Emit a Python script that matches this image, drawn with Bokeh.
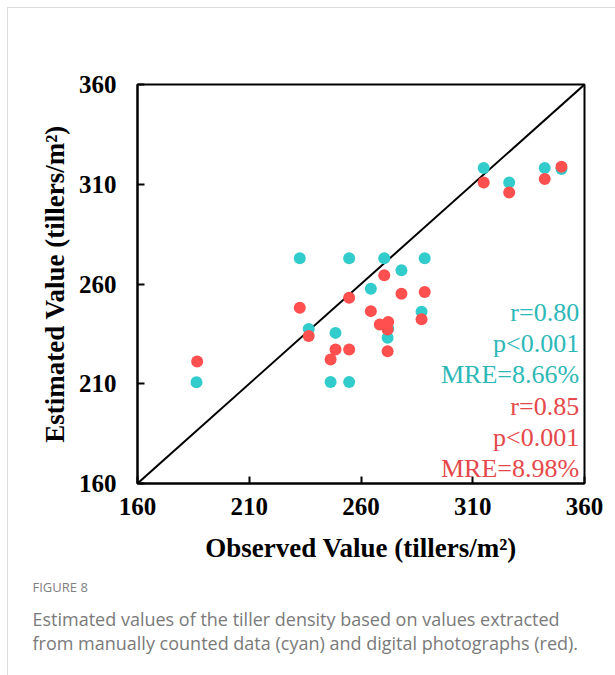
from bokeh.plotting import figure
from bokeh.models import Range1d, FixedTicker, Title, Label
from bokeh.embed import file_html
from bokeh.resources import INLINE

# ---- data ----
cyan_x = [186.4, 232.6, 254.7, 270.4, 288.5, 278.1, 264.4, 287.1, 236.6, 248.6,
          271.9, 272.2, 246.4, 254.7, 314.9, 326.3, 342.2, 349.7]
cyan_y = [210.8, 272.9, 272.9, 272.9, 272.9, 266.9, 257.6, 246.1, 237.5, 235.5,
          233.0, 237.7, 210.9, 210.9, 318.1, 310.9, 318.1, 317.6]
red_x = [186.7, 232.6, 236.6, 254.7, 270.4, 278.1, 288.5, 264.4, 287.1, 268.4,
         272.2, 271.9, 248.6, 254.7, 246.4, 271.9, 314.9, 326.3, 342.2, 349.7]
red_y = [221.2, 248.1, 233.9, 253.1, 264.4, 255.1, 256.0, 246.4, 242.3, 239.7,
         240.9, 237.2, 227.2, 227.2, 222.2, 226.3, 310.9, 305.9, 312.6, 318.8]
identity_line = [160, 360]
ticks = [160, 210, 260, 310, 360]
cyan_stats = ["r=0.80", "p<0.001", "MRE=8.66%"]
red_stats = ["r=0.85", "p<0.001", "MRE=8.98%"]
x_title = "Observed Value (tillers/m\u00b2)"
y_title = "Estimated Value (tillers/m\u00b2)"
caption_head = "FIGURE 8"
caption_lines = [
    "Estimated values of the tiller density based on values extracted",
    "from manually counted data (cyan) and digital photographs (red).",
]

# ---- styles ----
CYAN = "#33CCCC"
RED = "#FF4F4F"
CYAN_TXT = "#2DB8B8"
RED_TXT = "#E5484A"
SERIF = "Liberation Serif"

p = figure(width=608, height=668, output_backend="svg", toolbar_location=None,
           x_range=Range1d(160, 360), y_range=Range1d(160, 360),
           min_border_left=129, min_border_right=32, min_border_top=76,
           min_border_bottom=193)
p.margin = (7, 0, 0, 7)
p.styles = {"border-left": "1px solid #dcdcdc", "border-top": "1px solid #dcdcdc"}
p.background_fill_color = "white"
p.border_fill_color = "white"
p.outline_line_color = "black"
p.outline_line_width = 2
p.grid.visible = False

p.line(identity_line, identity_line, line_color="black", line_width=2)
p.scatter(cyan_x, cyan_y, size=12, fill_color=CYAN, line_color=None)
p.scatter(red_x, red_y, size=12, fill_color=RED, line_color=None)

for ax in (p.xaxis[0], p.yaxis[0]):
    ax.ticker = FixedTicker(ticks=ticks)
    ax.major_tick_in = 7
    ax.major_tick_out = 0
    ax.minor_tick_line_color = None
    ax.axis_line_width = 2
    ax.major_tick_line_width = 2
    ax.major_label_text_font = SERIF
    ax.major_label_text_font_style = "bold"
    ax.major_label_text_font_size = "25px"
    ax.major_label_text_color = "black"
    ax.axis_label_text_font = SERIF
    ax.axis_label_text_font_style = "bold"
    ax.axis_label_text_font_size = "27px"
    ax.axis_label_text_color = "black"

p.xaxis.axis_label = x_title
p.yaxis.axis_label = y_title
p.xaxis.major_label_standoff = 14
p.yaxis.major_label_standoff = 21
p.xaxis.axis_label_standoff = 15
p.yaxis.axis_label_standoff = 6

# stats annotations (right aligned inside the frame)
top_y = 245.6
step = 15.6
stats_x = 357.6
for i, (t, c) in enumerate([(s, CYAN_TXT) for s in cyan_stats] + [(s, RED_TXT) for s in red_stats]):
    p.add_layout(Label(x=stats_x, y=top_y - i * step, text=t, text_align="right",
                       text_baseline="middle", text_font=SERIF, text_font_size="26px",
                       text_color=c))

# caption
head = Title(text=caption_head, align="left", text_font="Open Sans", text_font_size="13px",
             text_color="#7f7f7f", text_font_style="normal", offset=-105, standoff=20)
p.add_layout(head, "below")
body = Title(text="\n".join(caption_lines), align="left", text_font="Open Sans",
             text_font_size="18px", text_color="#7a7a7a", text_font_style="normal",
             text_line_height=1.02, offset=-105, standoff=0)
p.add_layout(body, "below")

open("out.html", "w").write(file_html(p, INLINE))
